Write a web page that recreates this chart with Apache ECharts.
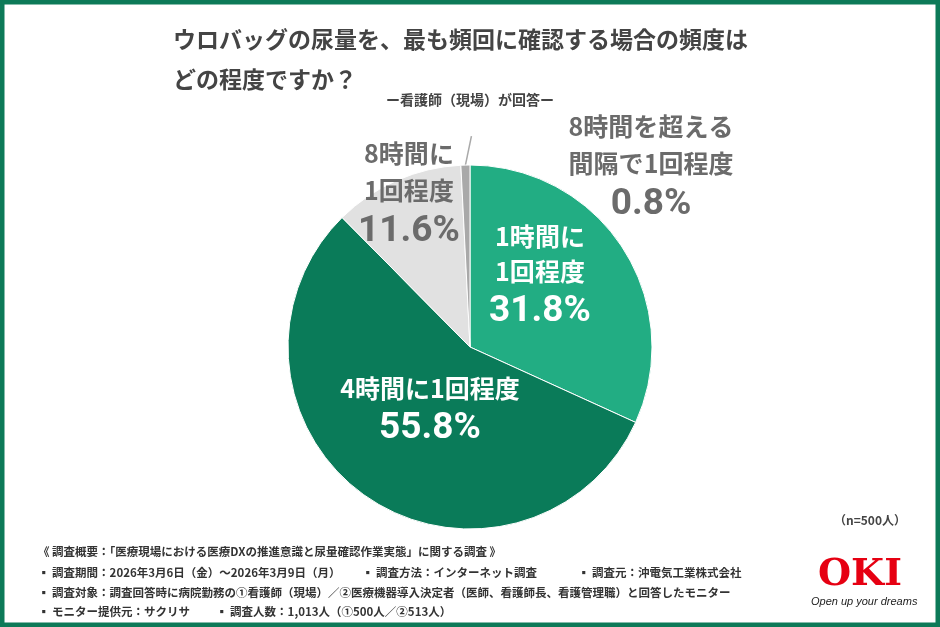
<!DOCTYPE html>
<html>
<head>
<meta charset="utf-8">
<script src="https://cdn.jsdelivr.net/npm/echarts@6/dist/echarts.min.js"></script>
<style>
  html, body { margin: 0; padding: 0; background: #fff; }
  #main { width: 940px; height: 627px; }
</style>
</head>
<body>
<div id="main"></div>
<script>
// 回答の選択肢と割合(%)
var categories = ['1時間に1回程度', '4時間に1回程度', '8時間に1回程度', '8時間を超える間隔で1回程度'];
var labelLines = [['1時間に', '1回程度'], ['4時間に1回程度'], ['8時間に', '1回程度'], ['8時間を超える', '間隔で1回程度']];
var values = [31.8, 55.8, 11.6, 0.8];
var colors = ['#22ad83', '#0a7b59', '#e1e1e1', '#a9a9a9'];

var footnotes = [
  '《 調査概要：「医療現場における医療DXの推進意識と尿量確認作業実態」に関する調査 》',
  '▪ 調査対象：調査回答時に病院勤務の①看護師（現場）／②医療機器導入決定者（医師、看護師長、看護管理職）と回答したモニター'
];

var FONT = '"Noto Sans CJK JP", "Noto Sans", sans-serif';
var NUMFONT = 'Roboto, "Noto Sans CJK JP", sans-serif';
var chart = echarts.init(document.getElementById('main'));

var inside = [true, true, false, false];
var data = values.map(function (v, i) {
  var c = inside[i] ? '#fff' : '#6b6b6b';
  return {
    name: categories[i],
    value: v,
    itemStyle: { color: colors[i] },
    label: {
      position: inside[i] ? 'inside' : 'outside',
      formatter: labelLines[i].map(function (t) { return '{t|' + t + '}'; }).join('\n') + '\n{p|' + v.toFixed(1) + '%}',
      rich: {
        t: { color: c, fontSize: 25, fontWeight: 'bold', fontFamily: FONT, lineHeight: inside[i] ? 35 : 37 },
        p: { color: c, fontSize: 37, fontWeight: 'bold', fontFamily: NUMFONT, lineHeight: 46 }
      }
    },
    labelLine: { show: false }
  };
});

// ラベル位置の微調整
var labelPos = [
  { x: 540, y: 277 },
  { x: 430, y: 411 },
  { x: 409, y: 195 },
  { x: 651, y: 168 }
];

var center = [470, 347], radius = 182;
// 0.8%スライスの引き出し線(スライス中央角から算出)
var sum = values.reduce(function (a, b) { return a + b; }, 0);
var before = values.slice(0, 3).reduce(function (a, b) { return a + b; }, 0);
var midAngle = (90 - (before + values[3] / 2) / sum * 360) * Math.PI / 180;
var lx = center[0] + radius * Math.cos(midAngle);
var ly = center[1] - radius * Math.sin(midAngle);

chart.setOption({
  backgroundColor: '#fff',
  animation: false,
  title: [
    {
      text: 'ウロバッグの尿量を、最も頻回に確認する場合の頻度は\nどの程度ですか？',
      left: 168, top: 14,
      textStyle: { fontSize: 23, fontWeight: 'bold', color: '#444', fontFamily: FONT, lineHeight: 40 }
    },
    {
      text: 'ー看護師（現場）が回答ー',
      left: 'center', top: 88,
      textStyle: { fontSize: 14, fontWeight: 'bold', color: '#444', fontFamily: FONT }
    }
  ],
  series: [{
    type: 'pie',
    center: center,
    radius: [0, radius],
    startAngle: 90,
    clockwise: true,
    avoidLabelOverlap: false,
    itemStyle: { borderColor: '#fff', borderWidth: 1 },
    emphasis: { disabled: true },
    data: data,
    labelLayout: function (p) {
      var pos = labelPos[p.dataIndex];
      return { x: pos.x, y: pos.y, align: 'center', verticalAlign: 'middle' };
    }
  }],
  graphic: [
    { type: 'rect', shape: { x: 2, y: 2, width: 936, height: 623 }, style: { fill: 'none', stroke: '#0d7a58', lineWidth: 5 } },
    { type: 'line', shape: { x1: lx, y1: ly, x2: lx + 6, y2: ly - 29 }, style: { stroke: '#a9a9a9', lineWidth: 1.5 } },
    { type: 'text', right: 34, top: 514, style: { text: '（n=500人）', font: 'bold 12px ' + FONT, fill: '#444' } },
    { type: 'text', left: 38, top: 546, style: { text: footnotes[0], font: 'bold 11.5px ' + FONT, fill: '#333' } },
    { type: 'text', left: 38, top: 567, style: { text: '▪ 調査期間：2026年3月6日（金）～2026年3月9日（月）', font: 'bold 11.5px ' + FONT, fill: '#333' } },
    { type: 'text', left: 362, top: 567, style: { text: '▪ 調査方法：インターネット調査', font: 'bold 11.5px ' + FONT, fill: '#333' } },
    { type: 'text', left: 578, top: 567, style: { text: '▪ 調査元：沖電気工業株式会社', font: 'bold 11.5px ' + FONT, fill: '#333' } },
    { type: 'text', left: 38, top: 587, style: { text: footnotes[1], font: 'bold 11.5px ' + FONT, fill: '#333' } },
    { type: 'text', left: 38, top: 606, style: { text: '▪ モニター提供元：サクリサ', font: 'bold 11.5px ' + FONT, fill: '#333' } },
    { type: 'text', left: 216, top: 606, style: { text: '▪ 調査人数：1,013人（①500人／②513人）', font: 'bold 11.5px ' + FONT, fill: '#333' } },
    { type: 'text', left: 818, top: 556, style: { text: 'OKI', font: 'bold 38px "DejaVu Serif", serif', fill: '#e60012' } },
    { type: 'text', left: 811, top: 596, style: { text: 'Open up your dreams', font: 'italic 11px "Liberation Sans", sans-serif', fill: '#222' } }
  ]
});
</script>
</body>
</html>
